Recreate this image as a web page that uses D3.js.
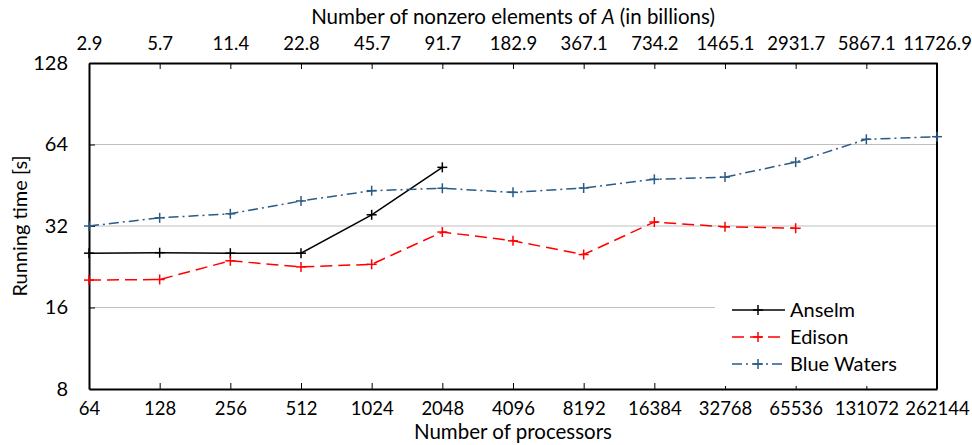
<!DOCTYPE html>
<html>
<head>
<meta charset="utf-8">
<script src="https://cdn.jsdelivr.net/npm/d3@7"></script>
<style>
  body { margin: 0; background: #fff; }
  text { font-family: Lato, "Noto Sans", sans-serif; fill: #000; }
</style>
</head>
<body>
<div id="chart"></div>
<script>
// categories: number of processors (bottom axis)
var processors = [64, 128, 256, 512, 1024, 2048, 4096, 8192, 16384, 32768, 65536, 131072, 262144]
// top axis: nonzero elements of A in billions
var nonzeros = ["2.9", "5.7", "11.4", "22.8", "45.7", "91.7", "182.9", "367.1", "734.2", "1465.1", "2931.7", "5867.1", "11726.9"]
var yTicks = [8, 16, 32, 64, 128]

// running time [s]
var anselm = [25.4, 25.5, 25.4, 25.4, 35.2, 52.7]
var edison = [20.2, 20.3, 23.8, 22.6, 23.1, 30.4, 28.2, 25.1, 33.1, 31.8, 31.4]
var blueWaters = [32.0, 34.3, 35.5, 39.6, 43.2, 44.1, 42.6, 44.2, 47.6, 48.5, 55.1, 66.9, 68.4]

var series = [
    {name: "Anselm", values: anselm, color: "#000000", dash: null},
    {name: "Edison", values: edison, color: "#ff0000", dash: "12,6"},
    {name: "Blue Waters", values: blueWaters, color: "#2c5a86", dash: "10,4,2,4"}
]

var width = 972, height = 445
var margin = {left: 89, right: 35, top: 63, bottom: 56}

var svg = d3.select("#chart").append("svg").attr("width", width).attr("height", height)

var x = d3.scalePoint()
    .domain(d3.range(processors.length))
    .range([margin.left, width - margin.right])

var y = d3.scaleLog().base(2)
    .domain([8, 128])
    .range([height - margin.bottom, margin.top])

var midX = (x(0) + x(processors.length - 1)) / 2

// gridlines
svg.append("g")
    .selectAll("line")
    .data(yTicks.filter(function(d) { return d > 8 && d < 128 }))
    .enter().append("line")
    .attr("x1", x(0)).attr("x2", x(processors.length - 1))
    .attr("y1", function(d) { return y(d) }).attr("y2", function(d) { return y(d) })
    .attr("stroke", "#bfbfbf").attr("stroke-width", 1)

// axes
var bottomAxis = d3.axisBottom(x)
    .tickFormat(function(i) { return processors[i] })
    .tickSizeInner(-6).tickSizeOuter(0).tickPadding(13)
var topAxis = d3.axisTop(x)
    .tickFormat(function(i) { return nonzeros[i] })
    .tickSizeInner(-6).tickSizeOuter(0).tickPadding(13)
var leftAxis = d3.axisLeft(y)
    .tickValues(yTicks).tickFormat(d3.format("d"))
    .tickSizeInner(-6).tickSizeOuter(0).tickPadding(21)

var gb = svg.append("g").attr("transform", "translate(0," + y(8) + ")").call(bottomAxis)
var gt = svg.append("g").attr("transform", "translate(0," + y(128) + ")").call(topAxis)
var gl = svg.append("g").attr("transform", "translate(" + x(0) + ",0)").call(leftAxis)

;[gb, gt, gl].forEach(function(g) {
    g.selectAll("text").style("font-size", "18.5px").style("font-family", "Lato, sans-serif")
    g.selectAll(".tick line").attr("stroke", "#000")
    g.select(".domain").attr("stroke", "#000").attr("stroke-width", 2)
})
gl.selectAll(".tick text").style("font-size", "20px")
gl.selectAll(".tick").filter(function(d) { return d == 8 || d == 128 }).select("line").remove()

// right frame
svg.append("line")
    .attr("x1", x(processors.length - 1)).attr("x2", x(processors.length - 1))
    .attr("y1", y(128)).attr("y2", y(8))
    .attr("stroke", "#000").attr("stroke-width", 2)

// titles
svg.append("text")
    .attr("x", midX).attr("y", 24)
    .attr("text-anchor", "middle").style("font-size", "20.5px")
    .html("Number of nonzero elements of <tspan font-style='italic'>A</tspan> (in billions)")
svg.append("text")
    .attr("x", midX).attr("y", 439)
    .attr("text-anchor", "middle").style("font-size", "20.5px")
    .text("Number of processors")
svg.append("text")
    .attr("transform", "translate(27," + ((y(8) + y(128)) / 2) + ") rotate(-90)")
    .attr("text-anchor", "middle").style("font-size", "20px")
    .text("Running time [s]")

// lines
var line = d3.line()
    .x(function(d, i) { return x(i) })
    .y(function(d) { return y(d) })

function plus(g, size) {
    g.append("line").attr("x1", -size).attr("x2", size).attr("y1", 0).attr("y2", 0)
    g.append("line").attr("x1", 0).attr("x2", 0).attr("y1", -size).attr("y2", size)
}

series.forEach(function(s) {
    svg.append("path")
        .datum(s.values)
        .attr("d", line)
        .attr("fill", "none")
        .attr("stroke", s.color)
        .attr("stroke-width", 1.5)
        .attr("stroke-dasharray", s.dash)

    svg.append("g")
        .selectAll("g")
        .data(s.values)
        .enter().append("g")
        .attr("transform", function(d, i) { return "translate(" + x(i) + "," + y(d) + ")" })
        .attr("stroke", s.color).attr("stroke-width", 1.5)
        .each(function() { plus(d3.select(this), 5) })
})

// legend
var legend = svg.append("g")
legend.append("rect")
    .attr("x", 715).attr("y", 296).attr("width", x(processors.length - 1) - 716).attr("height", 90)
    .attr("fill", "#fff")

var entry = legend.selectAll("g.entry")
    .data(series)
    .enter().append("g")
    .attr("class", "entry")
    .attr("transform", function(d, i) { return "translate(732," + (310 + i * 27) + ")" })

entry.append("line")
    .attr("x1", 0).attr("x2", 53).attr("y1", 0).attr("y2", 0)
    .attr("stroke", function(d) { return d.color })
    .attr("stroke-width", 1.5)
    .attr("stroke-dasharray", function(d) { return d.dash })
entry.append("g")
    .attr("transform", "translate(26,0)")
    .attr("stroke", function(d) { return d.color }).attr("stroke-width", 1.5)
    .each(function() { plus(d3.select(this), 5) })
entry.append("text")
    .attr("x", 58).attr("y", 7)
    .style("font-size", "20px")
    .text(function(d) { return d.name })
</script>
</body>
</html>
